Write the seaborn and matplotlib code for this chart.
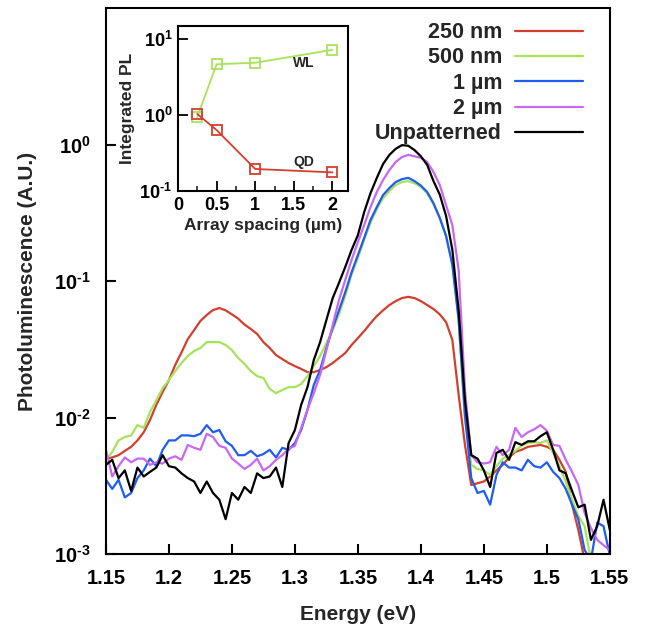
import numpy as np
import seaborn as sns
import matplotlib.pyplot as plt
from matplotlib.ticker import NullLocator

# ---- data ----
samples = ['250 nm', '500 nm', '1 µm', '2 µm', 'Unpatterned']
colors = ['#d23f2e', '#a6e35a', '#1f5cf0', '#c868f2', '#000000']

energy = np.linspace(1.15, 1.55, 81)  # eV, 5 meV steps

pl_250nm = [0.0050, 0.0051, 0.0053, 0.0057, 0.0061, 0.0068, 0.0078, 0.0096, 0.0124, 0.0154,
            0.0188, 0.0243, 0.030, 0.0376, 0.0437, 0.051, 0.0564, 0.0613, 0.0634, 0.061,
            0.057, 0.053, 0.048, 0.0445, 0.041, 0.0357, 0.0323, 0.0287, 0.0268, 0.0251,
            0.0238, 0.0227, 0.0215, 0.0215, 0.0223, 0.0234, 0.0251, 0.0273, 0.0297, 0.034,
            0.0382, 0.043, 0.049, 0.0554, 0.061, 0.0667, 0.0713, 0.075, 0.0766, 0.075,
            0.0713, 0.0667, 0.0624, 0.057, 0.050, 0.037, 0.0146, 0.0063, 0.0032, 0.0033,
            0.0034, 0.0037, 0.0041, 0.0045, 0.0051, 0.0056, 0.0058, 0.0061, 0.0062, 0.0063,
            0.0061, 0.0058, 0.0049, 0.0040, 0.0023, 0.0015, 0.0009, 0.0007, 0.0006, 0.0005,
            0.0005]

pl_500nm = [0.0049, 0.0056, 0.0068, 0.0072, 0.0074, 0.0088, 0.0084, 0.011, 0.0134, 0.0164,
            0.0188, 0.0219, 0.0251, 0.0282, 0.0307, 0.0323, 0.0357, 0.0357, 0.0357, 0.034,
            0.0312, 0.0273, 0.0247, 0.0219, 0.0201, 0.0195, 0.0162, 0.0151, 0.0159, 0.0167,
            0.0167, 0.0176, 0.0201, 0.0238, 0.0282, 0.0351, 0.0437, 0.057, 0.078, 0.111,
            0.147, 0.20, 0.266, 0.336, 0.405, 0.456, 0.505, 0.531, 0.54, 0.52,
            0.49, 0.44, 0.365, 0.29, 0.214, 0.133, 0.052, 0.0096, 0.0045, 0.0042,
            0.0041, 0.0038, 0.0044, 0.0050, 0.0053, 0.0057, 0.0062, 0.0065, 0.0066, 0.0065,
            0.0068, 0.0055, 0.0044, 0.0034, 0.0025, 0.0019, 0.0016, 0.0009, 0.0007, 0.0006,
            0.0005]

pl_1um = [0.0035, 0.0030, 0.0035, 0.0026, 0.0028, 0.0036, 0.0041, 0.0050, 0.0044, 0.0058,
          0.0068, 0.0068, 0.0074, 0.0074, 0.0073, 0.0076, 0.0088, 0.0078, 0.0081, 0.0067,
          0.0062, 0.0053, 0.0053, 0.0057, 0.0052, 0.0054, 0.0058, 0.0051, 0.0060, 0.0058,
          0.0065, 0.0081, 0.0114, 0.0173, 0.0223, 0.0323, 0.0453, 0.061, 0.083, 0.116,
          0.155, 0.207, 0.28, 0.348, 0.427, 0.48, 0.531, 0.558, 0.57, 0.54,
          0.50, 0.449, 0.372, 0.29, 0.214, 0.131, 0.052, 0.0104, 0.0036, 0.0028,
          0.0029, 0.0023, 0.0038, 0.0047, 0.0043, 0.0043, 0.0041, 0.0049, 0.0044, 0.0043,
          0.0047, 0.0040, 0.0036, 0.0030, 0.0023, 0.0018, 0.00107, 0.0009, 0.0017, 0.0016,
          0.00098]

pl_2um = [0.0058, 0.0037, 0.0044, 0.0051, 0.0047, 0.0050, 0.0050, 0.0045, 0.0047, 0.0046,
          0.0050, 0.0052, 0.0049, 0.0063, 0.0060, 0.0058, 0.0076, 0.0072, 0.0062, 0.0060,
          0.0050, 0.0046, 0.0042, 0.0045, 0.0050, 0.0041, 0.0044, 0.0049, 0.0053, 0.0059,
          0.0062, 0.0084, 0.0114, 0.0151, 0.0205, 0.0312, 0.0476, 0.0726, 0.102, 0.143,
          0.193, 0.257, 0.348, 0.449, 0.55, 0.65, 0.745, 0.81, 0.84, 0.82,
          0.80, 0.745, 0.63, 0.505, 0.36, 0.257, 0.12, 0.0159, 0.0053, 0.0047,
          0.0046, 0.0047, 0.0061, 0.0053, 0.0058, 0.0084, 0.0072, 0.0078, 0.0082, 0.0088,
          0.0080, 0.0063, 0.0062, 0.0049, 0.0040, 0.0032, 0.0020, 0.00155, 0.00127, 0.00116,
          0.00107]

pl_unpat = [0.0045, 0.0049, 0.0036, 0.0041, 0.0029, 0.0043, 0.0037, 0.0040, 0.0043, 0.0053,
            0.0044, 0.0043, 0.0039, 0.0036, 0.0034, 0.0028, 0.0034, 0.0028, 0.0025, 0.0018,
            0.0028, 0.0025, 0.0031, 0.0028, 0.0039, 0.0036, 0.0037, 0.0043, 0.0031, 0.0065,
            0.0081, 0.0124, 0.0167, 0.0264, 0.0357, 0.0518, 0.075, 0.097, 0.127, 0.169,
            0.217, 0.32, 0.44, 0.569, 0.72, 0.84, 0.93, 0.99, 0.98, 0.91,
            0.82, 0.71, 0.54, 0.43, 0.30, 0.169, 0.061, 0.0134, 0.0053, 0.0050,
            0.0041, 0.0031, 0.0055, 0.0058, 0.0049, 0.0066, 0.0063, 0.0067, 0.0067, 0.0073,
            0.0078, 0.0058, 0.0041, 0.0039, 0.0029, 0.0022, 0.0023, 0.00127, 0.0016, 0.0025,
            0.0015]

spectra = [pl_250nm, pl_500nm, pl_1um, pl_2um, pl_unpat]

# inset: integrated PL vs array spacing
spacing = [0.25, 0.5, 1, 2]
int_wl = [0.94, 4.65, 4.87, 7.2]
int_qd = [1.03, 0.635, 0.195, 0.176]

x_ticks = [1.15, 1.2, 1.25, 1.3, 1.35, 1.4, 1.45, 1.5, 1.55]
x_labels = ['1.15', '1.2', '1.25', '1.3', '1.35', '1.4', '1.45', '1.5', '1.55']
y_ticks = [1e-3, 1e-2, 1e-1, 1]
y_labels = [r'$\mathbf{10^{\text{-}3}}$', r'$\mathbf{10^{\text{-}2}}$',
            r'$\mathbf{10^{\text{-}1}}$', r'$\mathbf{10^{0}}$']

in_x_ticks = [0, 0.5, 1, 1.5, 2]
in_x_labels = ['0', '0.5', '1', '1.5', '2']
in_y_ticks = [0.1, 1, 10]
in_y_labels = [r'$\mathbf{10^{\text{-}1}}$', r'$\mathbf{10^{0}}$', r'$\mathbf{10^{1}}$']

# ---- style ----
sns.set_theme(style='ticks')
plt.rcParams['font.family'] = ['Liberation Sans', 'DejaVu Sans']
plt.rcParams['font.weight'] = 'bold'
plt.rcParams['axes.labelweight'] = 'bold'
plt.rcParams['mathtext.fontset'] = 'custom'
plt.rcParams['mathtext.rm'] = 'Liberation Sans:bold'
plt.rcParams['mathtext.bf'] = 'Liberation Sans:bold'
plt.rcParams['axes.linewidth'] = 1.5
plt.rcParams['axes.edgecolor'] = 'black'

fig = plt.figure(figsize=(6.46, 6.29), dpi=100)
ax = fig.add_axes([0.164, 0.1192, 0.780, 0.868])

for name, vals, c in zip(samples, spectra, colors):
    sns.lineplot(x=energy, y=vals, color=c, lw=1.6, label=name, ax=ax)

ax.set_yscale('log')
ax.set_xlim(1.15, 1.55)
ax.set_ylim(1e-3, 10)
ax.set_xticks(x_ticks, x_labels)
ax.set_yticks(y_ticks, y_labels)
ax.yaxis.set_minor_locator(NullLocator())
ax.tick_params(axis='both', which='major', direction='in', length=7, width=1.5,
               labelsize=14.5, pad=11, colors='black')
ax.set_xlabel('Energy (eV)', fontsize=15, labelpad=12)
ax.set_ylabel('Photoluminescence (A.U.)', fontsize=15, labelpad=12)

ax.legend(loc='upper right', bbox_to_anchor=(0.9635, 0.99), borderaxespad=0,
          markerfirst=False, frameon=False, fontsize=15.5,
          handlelength=3.15, handletextpad=0.6, labelspacing=0.2)

# ---- inset ----
axin = fig.add_axes([0.2755, 0.6963, 0.263, 0.2623])
sns.lineplot(x=spacing, y=int_wl, color=colors[1], lw=1.3, marker='s', ms=7,
             mec=colors[1], mew=1.3, ax=axin)
sns.lineplot(x=spacing, y=int_qd, color=colors[0], lw=1.3, marker='s', ms=7,
             mec=colors[0], mew=1.3, ax=axin)
for ln in axin.lines:
    ln.set_markerfacecolor('none')

axin.set_yscale('log')
axin.set_xlim(0, 2.2)
axin.set_ylim(0.1, 14.8)
axin.set_xticks(in_x_ticks, in_x_labels)
axin.set_xticks([0.25, 0.75, 1.25, 1.75], minor=True)
axin.set_yticks(in_y_ticks, in_y_labels)
axin.yaxis.set_minor_locator(NullLocator())
axin.tick_params(axis='both', which='major', direction='in', length=7, width=1.3,
                 labelsize=13, pad=4, colors='black')
axin.tick_params(axis='x', which='minor', direction='in', length=3.5, width=1.2)
axin.set_xlabel('Array spacing (µm)', fontsize=12.5, labelpad=3)
axin.set_ylabel('Integrated PL', fontsize=12.5, labelpad=3)
axin.text(1.63, 4.9, 'WL', fontsize=10, ha='center', va='center')
axin.text(1.63, 0.243, 'QD', fontsize=10, ha='center', va='center')

fig.savefig('out.png', dpi=100)
